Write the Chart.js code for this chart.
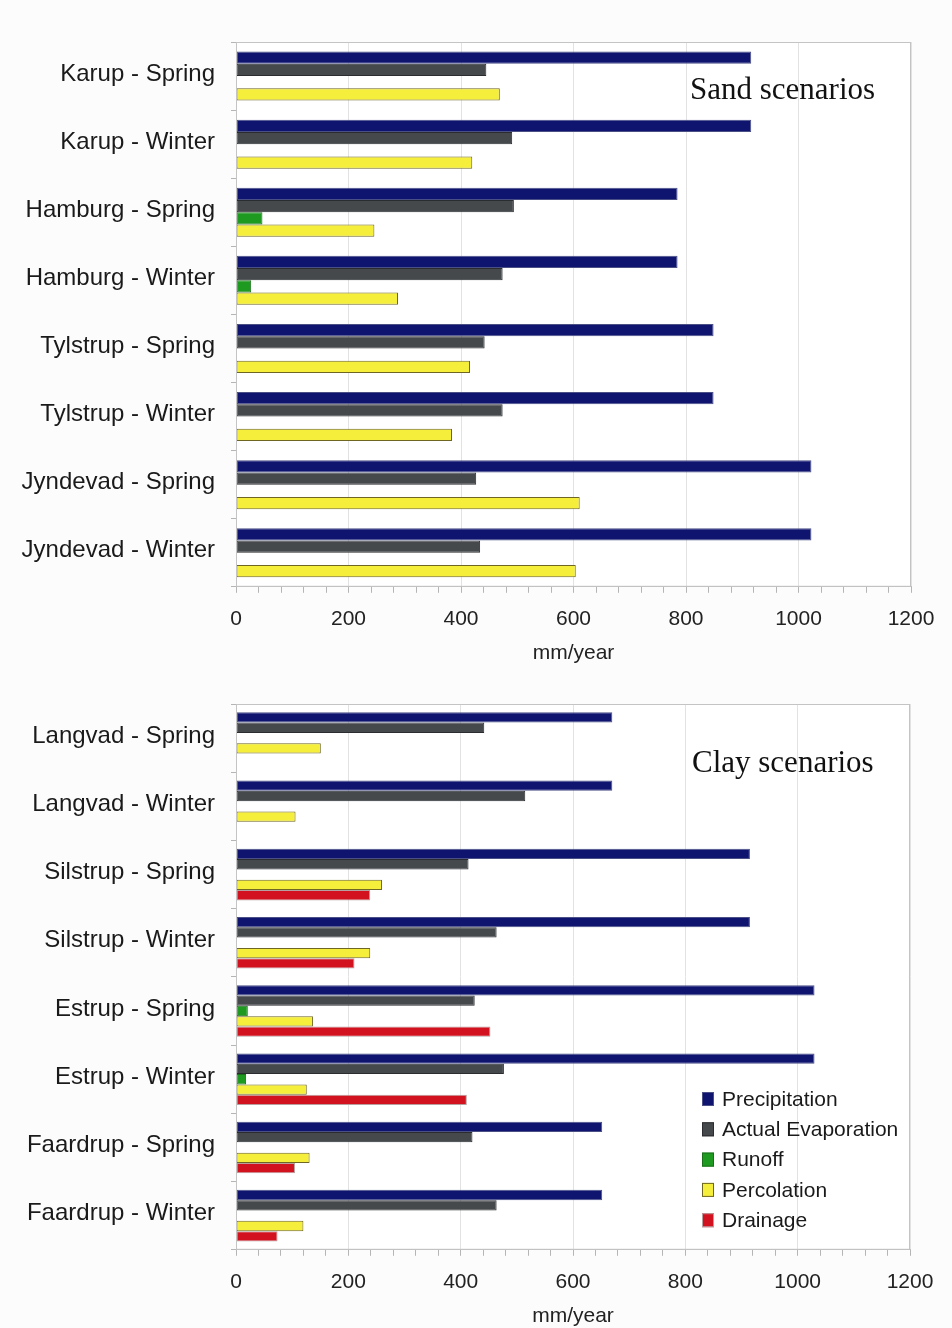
<!DOCTYPE html>
<html><head><meta charset="utf-8">
<script src="https://cdn.jsdelivr.net/npm/chart.js@4.4.1/dist/chart.umd.min.js"></script>
<style>
html,body{margin:0;padding:0;background:#fcfcfc;}
#wrap{width:952px;height:1328px;position:relative;overflow:hidden;}
.box{position:absolute;left:0;width:952px;}
</style></head><body>
<div id="wrap">
<div class="box" style="top:0;height:668px"><canvas id="sand"></canvas></div>
<div class="box" style="top:668px;height:662px"><canvas id="clay"></canvas></div>
</div>
<script>
const seriesNames = ['Precipitation','Actual Evaporation','Runoff','Percolation','Drainage'];
const xTickLabels = [0,200,400,600,800,1000,1200];
const axisTitle = 'mm/year';

const sandTitle = 'Sand scenarios';
const sandCategories = ['Karup - Spring','Karup - Winter','Hamburg - Spring','Hamburg - Winter','Tylstrup - Spring','Tylstrup - Winter','Jyndevad - Spring','Jyndevad - Winter'];
const sandPrecipitation = [916,916,785,785,849,849,1023,1023];
const sandEvaporation   = [445,491,494,474,442,474,427,434];
const sandRunoff        = [0,0,47,27,0,0,0,0];
const sandPercolation   = [469,420,246,288,416,384,611,604];

const clayTitle = 'Clay scenarios';
const clayCategories = ['Langvad - Spring','Langvad - Winter','Silstrup - Spring','Silstrup - Winter','Estrup - Spring','Estrup - Winter','Faardrup - Spring','Faardrup - Winter'];
const clayPrecipitation = [670,670,915,915,1030,1030,652,652];
const clayEvaporation   = [442,515,414,464,425,477,421,464];
const clayRunoff        = [0,0,0,0,21,18,0,0];
const clayPercolation   = [151,106,260,239,137,126,131,120];
const clayDrainage      = [0,0,239,211,453,411,105,74];

const styles = {
  'Precipitation':      {bg:'#0f156f', border:'#4a4f86'},
  'Actual Evaporation': {bg:'#46494c', border:'#2a2c2f'},
  'Runoff':             {bg:'#1f9a21', border:'#1a6e1a'},
  'Percolation':        {bg:'#f5ee3b', border:'#6e6622'},
  'Drainage':           {bg:'#d2121e', border:'#b8a0a0'}
};
const FONT = '"Liberation Sans", Arial, sans-serif';
const SERIF = '"Liberation Serif", "Times New Roman", serif';

function mkDataset(name, values){
  return {
    label: name,
    data: values.map(v => v === 0 ? null : v),
    backgroundColor: styles[name].bg,
    borderColor: styles[name].border,
    borderWidth: 1,
    borderSkipped: false,
    barPercentage: 1.0
  };
}

function framePlugin(opts){
  return {
    id: 'frame',
    beforeDraw(chart){
      const {ctx, chartArea:a} = chart;
      ctx.save();
      ctx.fillStyle = '#ffffff';
      ctx.fillRect(a.left, a.top, a.right-a.left, a.bottom-a.top);
      ctx.restore();
    },
    afterDraw(chart){
      const {ctx, chartArea:a} = chart;
      ctx.save();
      ctx.strokeStyle = '#c4c4c4';
      ctx.lineWidth = 1;
      ctx.strokeRect(a.left+0.5, a.top+0.5, a.right-a.left-1, a.bottom-a.top-1);
      ctx.fillStyle = '#111';
      ctx.font = '31px ' + SERIF;
      ctx.textBaseline = 'alphabetic';
      ctx.textAlign = 'left';
      ctx.fillText(opts.title, a.left + opts.tx, a.top + opts.ty);
      if (opts.legend){
        ctx.font = '21px ' + FONT;
        ctx.textBaseline = 'middle';
        chart.data.datasets.forEach((ds, i) => {
          const y = a.top + 395 + i*30.3;
          const x = a.left + 466;
          ctx.fillStyle = ds.backgroundColor;
          ctx.fillRect(x, y-7, 12, 14);
          ctx.strokeStyle = ds.borderColor;
          ctx.strokeRect(x+0.5, y-6.5, 11, 13);
          ctx.fillStyle = '#1a1a1a';
          ctx.fillText(ds.label, x + 20, y + 1);
        });
      }
      ctx.restore();
    }
  };
}

function makeChart(id, categories, datasets, catPct, pad, opts){
  return new Chart(document.getElementById(id), {
    type: 'bar',
    data: { labels: categories, datasets: datasets.map(d => Object.assign(d, {categoryPercentage: catPct})) },
    options: {
      indexAxis: 'y',
      responsive: true,
      maintainAspectRatio: false,
      animation: false,
      layout: { padding: pad },
      plugins: { legend: {display:false}, tooltip: {enabled:false} },
      scales: {
        x: {
          min: 0, max: 1200,
          border: { color: '#bdbdbd' },
          grid: {
            color: c => (c.tick && xTickLabels.includes(c.tick.value)) ? '#e2e2e2' : 'rgba(0,0,0,0)',
            tickColor: '#b5b5b5',
            tickLength: 6
          },
          ticks: {
            stepSize: 40,
            autoSkip: false,
            maxRotation: 0,
            padding: 16,
            color: '#222',
            font: { family: FONT, size: 21, lineHeight: 1 },
            callback: v => xTickLabels.includes(v) ? String(v) : ''
          },
          title: { display: true, text: axisTitle, color: '#222', font: {family: FONT, size: 21}, padding: {top: -5, bottom: 0} }
        },
        y: {
          border: { color: '#bdbdbd' },
          grid: { drawOnChartArea: false, tickColor: '#b5b5b5', tickLength: 5, offset: true },
          ticks: { color: '#1a1a1a', padding: 16, labelOffset: -2, font: { family: FONT, size: 24 } },
          afterFit: s => { s.width = 226; }
        }
      }
    },
    plugins: [framePlugin(opts)]
  });
}

makeChart('sand', sandCategories, [
  mkDataset('Precipitation', sandPrecipitation),
  mkDataset('Actual Evaporation', sandEvaporation),
  mkDataset('Runoff', sandRunoff),
  mkDataset('Percolation', sandPercolation)
], 0.72, {top: 42, left: 10, right: 41, bottom: 2}, {title: sandTitle, tx: 454, ty: 57, legend: false});

makeChart('clay', clayCategories, [
  mkDataset('Precipitation', clayPrecipitation),
  mkDataset('Actual Evaporation', clayEvaporation),
  mkDataset('Runoff', clayRunoff),
  mkDataset('Percolation', clayPercolation),
  mkDataset('Drainage', clayDrainage)
], 0.757, {top: 36, left: 10, right: 42, bottom: 1}, {title: clayTitle, tx: 456, ty: 68, legend: true});
</script>
</body></html>
